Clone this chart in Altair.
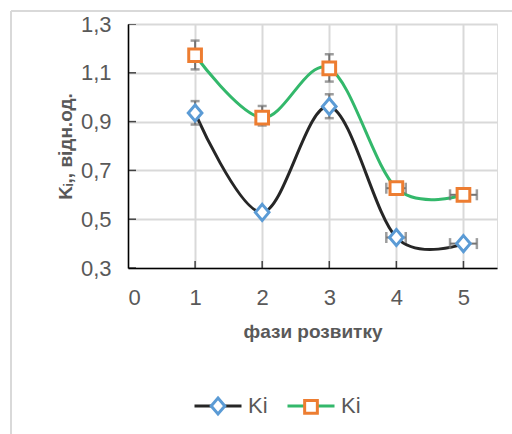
import altair as alt
import pandas as pd

# ---- data ----
phase = [1, 2, 3, 4, 5]
ki_1 = [0.935, 0.528, 0.962, 0.425, 0.400]
ki_2 = [1.172, 0.916, 1.118, 0.627, 0.600]

# vertical error bars (phases 1-3)
yerr_phase = [1, 2, 3]
ki_1_ylo = [0.888, 0.516, 0.914]
ki_1_yhi = [0.984, 0.540, 1.012]
ki_2_ylo = [1.114, 0.884, 1.064]
ki_2_yhi = [1.232, 0.964, 1.176]

# horizontal error bars (phases 4-5)
xerr_phase = [4, 5]
xerr_lo = [3.85, 4.80]
xerr_hi = [4.14, 5.20]

x_ticks = [0, 1, 2, 3, 4, 5]
y_ticks = [0.3, 0.5, 0.7, 0.9, 1.1, 1.3]

series_line = ["L1", "L2"]
series_mark = ["M1", "M2"]

# ---- styling ----
FONT = "Liberation Sans"
TXT = "#595959"
GRID = "#d9d9d9"
ERR = "#737373"
LINE_COLORS = ["#262626", "#33b86b"]
MARK_COLORS = ["#5b9bd5", "#ed7d31"]
SYM = 2209  # symbol size (sqrt = 47 px)
LINE_PATH = "M-1,0H-0.3M0.3,0H1"
DIAMOND = "M-1,0M0,-0.34L0.29,0L0,0.34L-0.29,0ZM1,0"
SQUARE = "M-1,0M-0.27,-0.27H0.27V0.27H-0.27ZM1,0"

rows = []
for i, p in enumerate(phase):
    rows.append({"phase": p, "value": ki_1[i], "line": series_line[0], "mark": series_mark[0]})
for i, p in enumerate(phase):
    rows.append({"phase": p, "value": ki_2[i], "line": series_line[1], "mark": series_mark[1]})
df = pd.DataFrame(rows)

vrows = []
for i, p in enumerate(yerr_phase):
    vrows.append({"phase": p, "lo": ki_1_ylo[i], "hi": ki_1_yhi[i]})
    vrows.append({"phase": p, "lo": ki_2_ylo[i], "hi": ki_2_yhi[i]})
vdf = pd.DataFrame(vrows)

hrows = []
for i, p in enumerate(xerr_phase):
    hrows.append({"y": ki_1[p - 1], "lo": xerr_lo[i], "hi": xerr_hi[i]})
    hrows.append({"y": ki_2[p - 1], "lo": xerr_lo[i], "hi": xerr_hi[i]})
hdf = pd.DataFrame(hrows)

xs = alt.Scale(domain=[0, 5.5], nice=False, zero=False)
ys = alt.Scale(domain=[0.3, 1.3], nice=False, zero=False)

x_axis = alt.Axis(values=x_ticks, title="фази розвитку", grid=True, gridColor=GRID,
                  gridWidth=2, tickSize=0, domainColor="black", domainWidth=1.5,
                  labelFontSize=22, labelColor=TXT, labelFont=FONT, labelPadding=19,
                  titleFontSize=19, titleFontWeight="bold", titleColor=TXT,
                  titleFont=FONT, titlePadding=14)
y_axis = alt.Axis(values=y_ticks, title="Kᵢ,, відн.од.", grid=True, gridColor=GRID,
                  gridWidth=2, tickSize=0, domainColor="black", domainWidth=1.5,
                  labelFontSize=22, labelColor=TXT, labelFont=FONT, labelPadding=17,
                  labelExpr="replace(format(datum.value, '.1f'), '.', ',')",
                  titleFontSize=19, titleFontWeight="bold", titleColor=TXT,
                  titleFont=FONT, titlePadding=5)


def X(field):
    return alt.X(field, scale=xs, axis=x_axis, title="фази розвитку")


def Y(field):
    return alt.Y(field, scale=ys, axis=y_axis, title="Kᵢ,, відн.од.")


leg_common = dict(orient="none", legendX=65, legendY=357, direction="horizontal",
                  title=None, symbolSize=SYM, symbolStrokeWidth=3,
                  labelFontSize=22, labelFont=FONT, labelOffset=5,
                  columnPadding=13, padding=0, labelExpr="'Ki'")

lines = alt.Chart(df).mark_line(interpolate="cardinal", tension=0, strokeWidth=3).encode(
    x=X("phase:Q"),
    y=Y("value:Q"),
    color=alt.Color("line:N", scale=alt.Scale(domain=series_line, range=LINE_COLORS),
                    legend=alt.Legend(symbolType=LINE_PATH, labelColor=TXT, **leg_common)),
)

verr = alt.Chart(vdf).mark_rule(color=ERR, strokeWidth=2).encode(
    x=X("phase:Q"), y=Y("lo:Q"), y2="hi:Q")
vcap_lo = alt.Chart(vdf).mark_tick(color=ERR, thickness=2.5, size=9, orient="horizontal").encode(
    x=X("phase:Q"), y=Y("lo:Q"))
vcap_hi = alt.Chart(vdf).mark_tick(color=ERR, thickness=2.5, size=9, orient="horizontal").encode(
    x=X("phase:Q"), y=Y("hi:Q"))

herr = alt.Chart(hdf).mark_rule(color=ERR, strokeWidth=2).encode(
    x=X("lo:Q"), x2="hi:Q", y=Y("y:Q"))
hcap_lo = alt.Chart(hdf).mark_tick(color=ERR, thickness=2.5, size=11, orient="vertical").encode(
    x=X("lo:Q"), y=Y("y:Q"))
hcap_hi = alt.Chart(hdf).mark_tick(color=ERR, thickness=2.5, size=11, orient="vertical").encode(
    x=X("hi:Q"), y=Y("y:Q"))

mark_legend = alt.Legend(labelColor="transparent", symbolFillColor="white", **leg_common)
points = alt.Chart(df).mark_point(filled=True, fill="white", strokeWidth=3, size=SYM,
                                  opacity=1).encode(
    x=X("phase:Q"),
    y=Y("value:Q"),
    stroke=alt.Stroke("mark:N", scale=alt.Scale(domain=series_mark, range=MARK_COLORS),
                      legend=mark_legend),
    shape=alt.Shape("mark:N", scale=alt.Scale(domain=series_mark, range=[DIAMOND, SQUARE]),
                    legend=mark_legend),
)

xt = pd.DataFrame({"t": x_ticks, "base": [0.3] * len(x_ticks)})
yt = pd.DataFrame({"t": y_ticks, "base": [0.0] * len(y_ticks)})
xtick_marks = alt.Chart(xt).mark_tick(color="black", thickness=1.5, size=14,
                                      orient="vertical", clip=True).encode(
    x=X("t:Q"), y=Y("base:Q"))
ytick_marks = alt.Chart(yt).mark_tick(color="black", thickness=1.5, size=16,
                                      orient="horizontal", clip=True).encode(
    x=X("base:Q"), y=Y("t:Q"))

one = pd.DataFrame({"k": [0]})
frame_top = alt.Chart(one).mark_rule(color="#d9d9d9", strokeWidth=2).encode(
    x=alt.value(-117), x2=alt.value(420), y=alt.value(-13))
frame_left = alt.Chart(one).mark_rule(color="#d9d9d9", strokeWidth=2).encode(
    x=alt.value(-117), y=alt.value(-13), y2=alt.value(440))

chart = alt.layer(
    frame_top, frame_left, lines, verr, vcap_lo, vcap_hi, herr, hcap_lo, hcap_hi,
    points, xtick_marks, ytick_marks
).resolve_scale(
    color="independent", stroke="independent", shape="independent"
).properties(
    width=369, height=244, autosize="none",
    padding={"left": 128, "top": 24, "right": 15, "bottom": 166},
    background="white",
).configure_view(fill="#e9e9e9", stroke="transparent", strokeWidth=0).configure(font=FONT)

chart.save("out.html", embed_options={"renderer": "svg", "actions": False})
